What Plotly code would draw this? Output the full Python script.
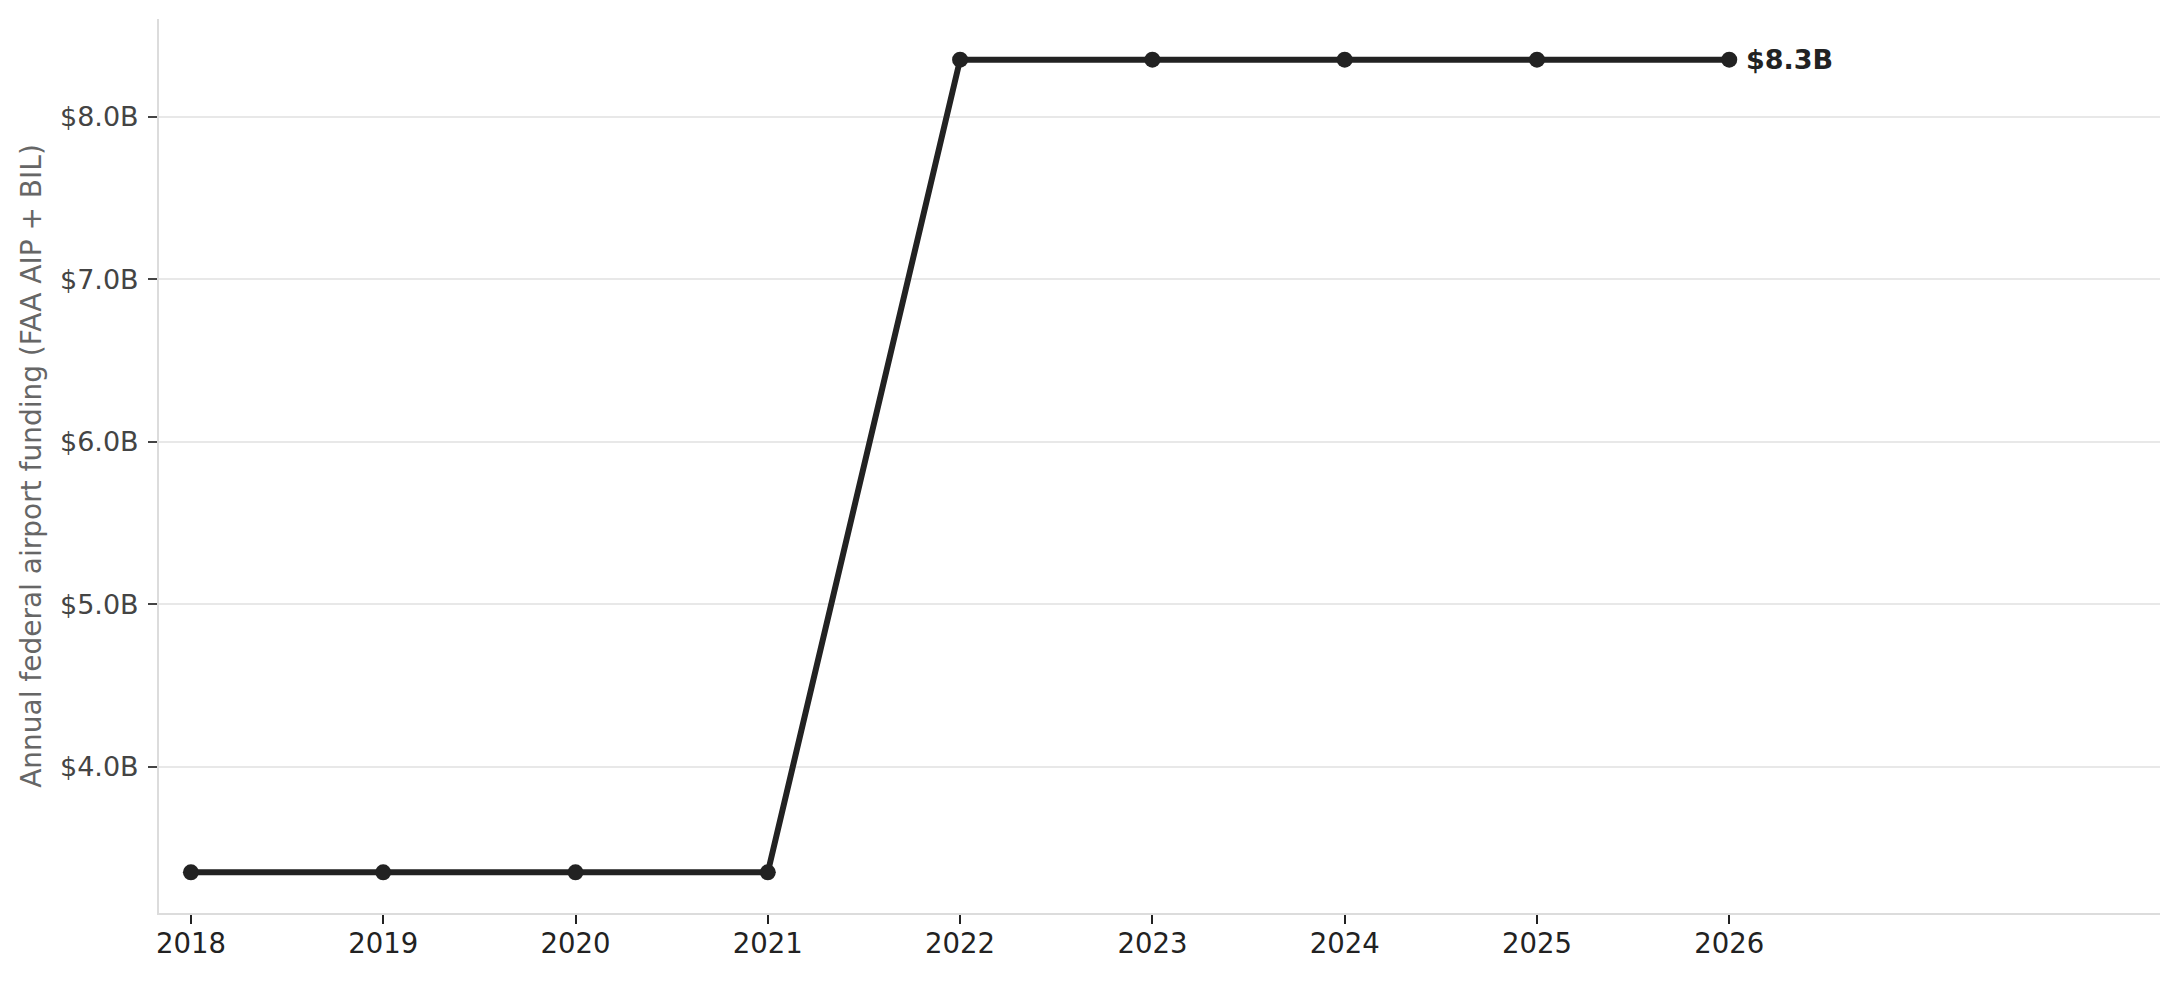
import plotly.graph_objects as go

years = [2018, 2019, 2020, 2021, 2022, 2023, 2024, 2025, 2026]
funding_b = [3.35, 3.35, 3.35, 3.35, 8.35, 8.35, 8.35, 8.35, 8.35]
y_tickvals = [4, 5, 6, 7, 8]
y_ticktext = ["$4.0B", "$5.0B", "$6.0B", "$7.0B", "$8.0B"]
end_label = "$8.3B"

FONT = "DejaVu Sans"

fig = go.Figure()
fig.add_trace(go.Scatter(
    x=years, y=funding_b, mode="lines+markers",
    line=dict(color="#222222", width=6),
    marker=dict(color="#222222", size=16),
    showlegend=False, hoverinfo="skip",
))
fig.add_annotation(
    x=years[-1], y=funding_b[-1], text="<b>" + end_label + "</b>",
    showarrow=False, xanchor="left", yanchor="middle", xshift=15,
    font=dict(family=FONT, size=27, color="#222222"),
)
fig.update_layout(
    width=2181, height=981,
    paper_bgcolor="white", plot_bgcolor="white",
    margin=dict(l=151, r=29, t=11, b=76),
    font=dict(family=FONT, size=27, color="#333333"),
)
fig.update_xaxes(
    range=[2017.834, 2028.24],
    tickvals=years, ticktext=[str(y) for y in years],
    showgrid=False, zeroline=False,
    showline=True, linecolor="#dcdcdc", linewidth=2,
    ticks="outside", ticklen=9, tickcolor="#222222", tickwidth=2,
    ticklabelstandoff=-4,
    tickfont=dict(family=FONT, size=27.5, color="#222222"),
)
fig.update_yaxes(
    range=[3.10, 8.60],
    tickvals=y_tickvals, ticktext=y_ticktext,
    showgrid=True, gridcolor="#e8e8e8", gridwidth=1.5, zeroline=False,
    showline=True, linecolor="#dcdcdc", linewidth=2,
    ticks="outside", ticklen=9, tickcolor="#444444", tickwidth=2,
    ticklabelstandoff=4,
    tickfont=dict(family=FONT, size=27, color="#444444"),
    title=dict(text="Annual federal airport funding (FAA AIP + BIL)",
               font=dict(family=FONT, size=28, color="#666666"), standoff=10),
)
fig.write_html("out.html")
